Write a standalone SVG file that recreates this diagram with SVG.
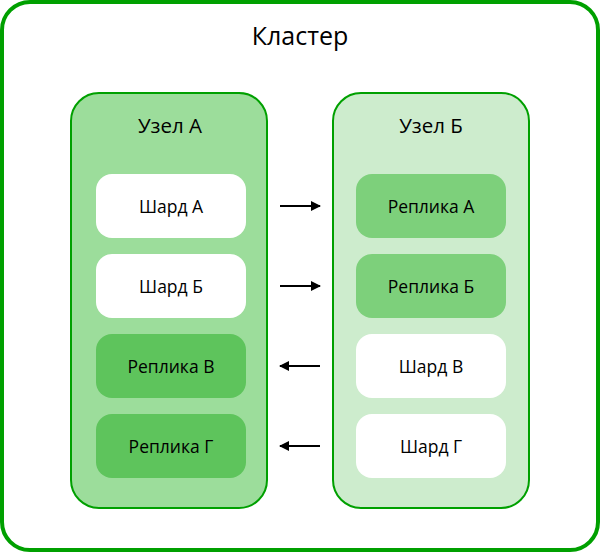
<svg xmlns="http://www.w3.org/2000/svg" width="600" height="552" viewBox="0 0 600 552">
<defs>
<style>
text{font-family:"Open Sans","Noto Sans","DejaVu Sans",sans-serif;fill:#000;text-anchor:middle}
.title{font-size:25px}
.ntitle{font-size:20.5px}
.lbl{font-size:17.5px}
.cluster{fill:#fff;stroke:#00a000;stroke-width:4}
.nodeA{fill:#9cdd9b;stroke:#00a000;stroke-width:2}
.nodeB{fill:#cdeccd;stroke:#00a000;stroke-width:2}
.shard{fill:#fff}
.repA{fill:#5ec45c}
.repB{fill:#7dd07b}
.conn{stroke:#000;stroke-width:2;fill:none;marker-end:url(#arr)}
</style>
<marker id="arr" viewBox="0 0 10 10" refX="9" refY="5" markerWidth="5" markerHeight="5" orient="auto" markerUnits="strokeWidth">
<path d="M0,0 L10,5 L0,10 z" fill="#000"/>
</marker>
</defs>
<g id="cluster">
<rect class="cluster" x="2" y="2" width="596" height="548" rx="28"/>
<text class="title" x="300" y="45">Кластер</text>
</g>
<g id="node-a">
<rect class="nodeA" x="71" y="93" width="196" height="415" rx="28"/>
<text class="ntitle" x="170" y="133">Узел А</text>
</g>
<g id="node-b">
<rect class="nodeB" x="333" y="93" width="196" height="415" rx="28"/>
<text class="ntitle" x="431" y="133">Узел Б</text>
</g>
<g id="shard-a"><rect class="shard" x="96" y="174" width="150" height="64" rx="16"/><text class="lbl" x="171" y="213">Шард А</text></g>
<g id="shard-b"><rect class="shard" x="96" y="254" width="150" height="64" rx="16"/><text class="lbl" x="171" y="293">Шард Б</text></g>
<g id="replica-v"><rect class="repA" x="96" y="334" width="150" height="64" rx="16"/><text class="lbl" x="171" y="373">Реплика В</text></g>
<g id="replica-g"><rect class="repA" x="96" y="414" width="150" height="64" rx="16"/><text class="lbl" x="171" y="453">Реплика Г</text></g>
<g id="replica-a"><rect class="repB" x="356" y="174" width="150" height="64" rx="16"/><text class="lbl" x="431" y="213">Реплика А</text></g>
<g id="replica-b"><rect class="repB" x="356" y="254" width="150" height="64" rx="16"/><text class="lbl" x="431" y="293">Реплика Б</text></g>
<g id="shard-v"><rect class="shard" x="356" y="334" width="150" height="64" rx="16"/><text class="lbl" x="431" y="373">Шард В</text></g>
<g id="shard-g"><rect class="shard" x="356" y="414" width="150" height="64" rx="16"/><text class="lbl" x="431" y="453">Шард Г</text></g>
<g id="connectors">
<line class="conn" x1="280" y1="206" x2="320" y2="206"/>
<line class="conn" x1="280" y1="286" x2="320" y2="286"/>
<line class="conn" x1="320" y1="366" x2="280" y2="366"/>
<line class="conn" x1="320" y1="446" x2="280" y2="446"/>
</g>
</svg>
